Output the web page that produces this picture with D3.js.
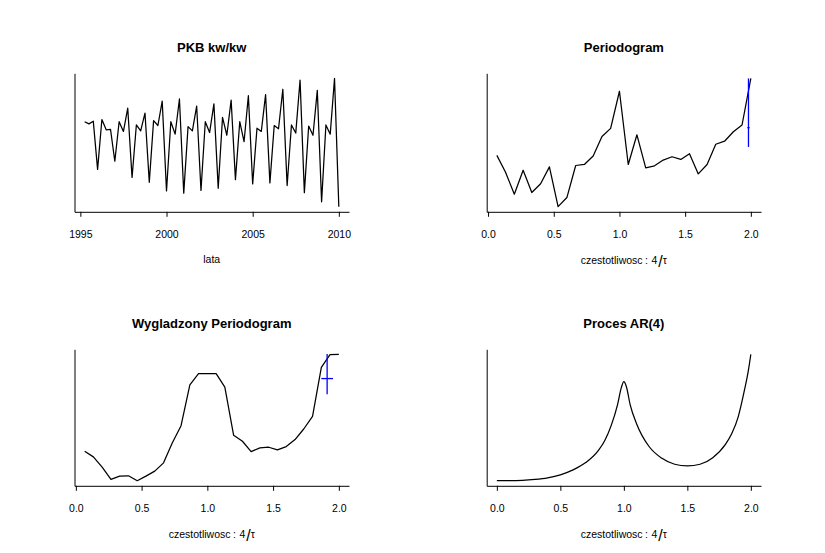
<!DOCTYPE html>
<html>
<head>
<meta charset="utf-8">
<script src="https://cdn.jsdelivr.net/npm/d3@7"></script>
<style>
  body { margin: 0; background: #fff; }
  svg { display: block; }
</style>
</head>
<body>
<div id="chart"></div>
<script>
/* Kwartalny PKB (kw/kw), start 1995Q2, koniec 2010Q1 */
var pkbStart = 1995.25;
var pkbValues = [
    102.6, 102.2, 102.7, 93.8, 103.0, 101.1, 101.2, 95.3,
    102.6, 100.8, 105.1, 92.3, 102.0, 100.9, 104.2, 91.4,
    102.8, 101.9, 106.4, 89.8, 102.6, 100.3, 106.8, 89.4,
    101.7, 100.9, 105.5, 89.9, 102.6, 100.6, 105.9, 90.3,
    103.4, 100.1, 106.6, 91.9, 102.6, 98.9, 107.4, 91.1,
    101.4, 100.8, 107.6, 91.3, 101.9, 101.3, 108.6, 90.8,
    102.0, 100.5, 110.3, 89.5, 101.8, 100.1, 108.4, 87.8,
    102.0, 100.3, 110.6, 86.9
];
var yearTicks = [1995, 2000, 2005, 2010];

// Fourier frequencies (k/15), spectrum in dB
var freqs = [
    0.067, 0.133, 0.200, 0.267, 0.333, 0.400, 0.467, 0.533, 0.600, 0.667,
    0.733, 0.800, 0.867, 0.933, 1.000, 1.067, 1.133, 1.200, 1.267, 1.333,
    1.400, 1.467, 1.533, 1.600, 1.667, 1.733, 1.800, 1.867, 1.933, 2.000
];
var rawSpec = [
    2.10, -0.40, -3.65, -0.10, -3.40, -2.10, 0.40, -5.50, -4.15, 0.60,
    0.75, 2.00, 4.90, 6.10, 11.60, 0.75, 5.15, 0.25, 0.55, 1.40,
    1.90, 1.50, 2.35, -0.65, 0.75, 3.75, 4.20, 5.60, 6.60, 13.50
];
var smoothSpec = [
    -1.75, -2.60, -4.15, -6.00, -5.50, -5.45, -6.20, -5.50, -4.75, -3.50,
    -0.50, 2.10, 8.25, 9.95, 9.95, 9.95, 7.90, 0.65, -0.25, -1.80,
    -1.25, -1.15, -1.55, -1.05, 0.00, 1.60, 3.50, 10.90, 12.80, 12.85
];
// confidence bars: [x, low, mid, high, bandwidth]
var rawCI = [1.982, 3.35, 6.2, 13.5, 0.018];
var smoothCI = [1.911, 6.85, 9.2, 12.9, 0.089];

// AR(4) spectrum
var arFreq = [
    0, 0.1, 0.2, 0.3, 0.4, 0.5, 0.6, 0.7, 0.8, 0.85, 0.9, 0.95, 0.98, 1.0,
    1.02, 1.05, 1.1, 1.2, 1.3, 1.4, 1.5, 1.6, 1.7, 1.8, 1.85, 1.9, 1.95, 1.98, 2.0
];
var arSpec = [
    -6.25, -6.25, -6.20, -6.05, -5.80, -5.35, -4.60, -3.50, -1.65, -0.15, 2.10, 5.25, 7.85, 8.75,
    8.00, 5.25, 2.40, -1.10, -2.85, -3.75, -4.00, -3.75, -2.75, -0.75, 0.90, 3.40, 7.50, 10.40, 12.90
];
var freqTicks = [0, 0.5, 1, 1.5, 2];

var config = {
    width: 825,
    height: 553,
    font: 'Liberation Sans, Arial, Helvetica, sans-serif',
    titleSize: 13,
    tickSize: 10.5,
    colLeft: [74.5, 486.7],
    colRight: [349, 761],
    rowTop: [73.3, 349.3],
    rowBottom: [211.8, 485.8],
    titleGap: 21.5,
    tickLen: 5,
    lineWidth: 1.25
};

var svg = d3.select('#chart').append('svg')
    .attr('width', config.width)
    .attr('height', config.height)
    .style('font-family', config.font);

// R style padded range (4% each side)
function padded(ext) {
    var r = ext[1] - ext[0];
    return [ext[0] - 0.04 * r, ext[1] + 0.04 * r];
}

function panel(col, row, title, xs, ys, ticks, tickFmt, curve) {
    var x0 = config.colLeft[col], x1 = config.colRight[col];
    var y0 = config.rowTop[row], y1 = config.rowBottom[row];
    var g = svg.append('g');

    var x = d3.scaleLinear().domain(padded(d3.extent(xs))).range([x0, x1]);
    var y = d3.scaleLinear().domain(padded(d3.extent(ys))).range([y1, y0]);

    g.append('text')
        .attr('x', (x0 + x1) / 2)
        .attr('y', y0 - config.titleGap)
        .attr('text-anchor', 'middle')
        .attr('font-size', config.titleSize)
        .attr('font-weight', 'bold')
        .text(title);

    var xAxis = g.append('g')
        .attr('transform', 'translate(0,' + y1 + ')')
        .call(d3.axisBottom(x).tickValues(ticks).tickFormat(tickFmt)
            .tickSizeInner(config.tickLen).tickSizeOuter(0).tickPadding(13.5));
    xAxis.selectAll('text').attr('font-size', config.tickSize).attr('fill', '#000').attr('font-family', config.font);

    g.append('g')
        .attr('transform', 'translate(' + x0 + ',0)')
        .call(d3.axisLeft(y).tickValues([]).tickSizeOuter(0));

    g.selectAll('.domain, .tick line').attr('stroke', '#000');

    g.append('path')
        .datum(xs.map(function (d, i) { return [d, ys[i]]; }))
        .attr('fill', 'none')
        .attr('stroke', '#000')
        .attr('stroke-width', config.lineWidth)
        .attr('stroke-linejoin', 'round')
        .attr('d', d3.line()
            .x(function (d) { return x(d[0]); })
            .y(function (d) { return y(d[1]); })
            .curve(curve || d3.curveLinear));

    return { g: g, x: x, y: y, cx: (x0 + x1) / 2, bottom: y1 };
}

function confBar(p, ci) {
    p.g.append('line')
        .attr('x1', p.x(ci[0])).attr('x2', p.x(ci[0]))
        .attr('y1', p.y(ci[1])).attr('y2', p.y(ci[3]))
        .attr('stroke', '#0000ff').attr('stroke-width', 1.3);
    p.g.append('line')
        .attr('x1', p.x(ci[0] - ci[4] / 2)).attr('x2', p.x(ci[0] + ci[4] / 2))
        .attr('y1', p.y(ci[2])).attr('y2', p.y(ci[2]))
        .attr('stroke', '#0000ff').attr('stroke-width', 1.3);
}

function freqLabel(p) {
    var t = p.g.append('text')
        .attr('x', p.cx)
        .attr('y', p.bottom + 52)
        .attr('text-anchor', 'middle')
        .attr('font-size', config.tickSize);
    t.append('tspan').text('czestotliwosc');
    t.append('tspan').attr('dx', 2.5).text(':');
    t.append('tspan').attr('dx', 3.5).text('4');
    t.append('tspan').attr('dx', 1).attr('dy', 3).attr('font-size', 16).text('/');
    t.append('tspan').attr('dy', -3).text('\u03c4');
}

var fmtFreq = d3.format('.1f');

var pkbTime = pkbValues.map(function (d, i) { return pkbStart + i / 4; });
var p1 = panel(0, 0, 'PKB kw/kw', pkbTime, pkbValues, yearTicks, d3.format('d'));
p1.g.append('text')
    .attr('x', p1.cx)
    .attr('y', p1.bottom + 51)
    .attr('text-anchor', 'middle')
    .attr('font-size', config.tickSize)
    .text('lata');

var p2 = panel(1, 0, 'Periodogram', freqs, rawSpec, freqTicks, fmtFreq);
confBar(p2, rawCI);
freqLabel(p2);

var p3 = panel(0, 1, 'Wygladzony Periodogram', freqs, smoothSpec, freqTicks, fmtFreq);
confBar(p3, smoothCI);
freqLabel(p3);

var p4 = panel(1, 1, 'Proces AR(4)', arFreq, arSpec, freqTicks, fmtFreq, d3.curveMonotoneX);
freqLabel(p4);
</script>
</body>
</html>
